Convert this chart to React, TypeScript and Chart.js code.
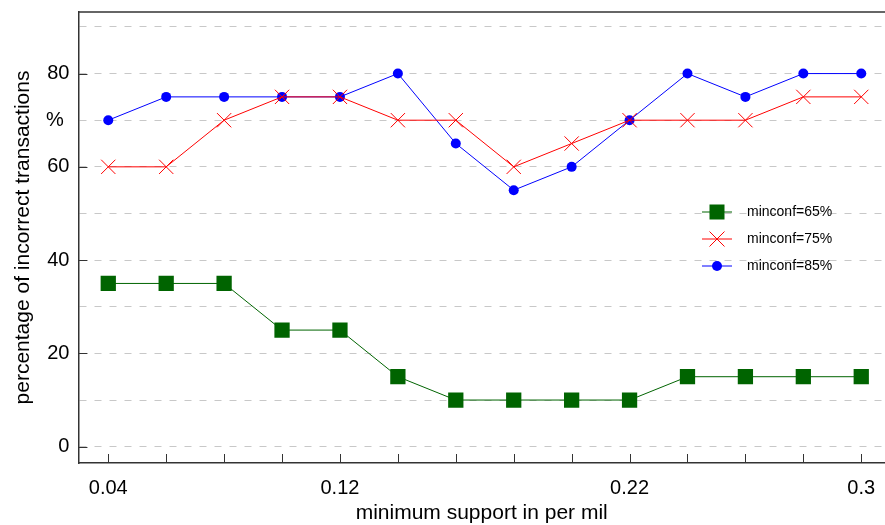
import React, { useEffect, useRef } from 'react';
import { Chart, registerables } from 'chart.js';

Chart.register(...registerables);

// ---- data ----
const xValues = [0.04, 0.06, 0.08, 0.10, 0.12, 0.14, 0.16, 0.18, 0.20, 0.22, 0.24, 0.26, 0.28, 0.30];
const minconf65 = [35, 35, 35, 25, 25, 15, 10, 10, 10, 10, 15, 15, 15, 15];
const minconf75 = [60, 60, 70, 75, 75, 70, 70, 60, 65, 70, 70, 70, 75, 75];
const minconf85 = [70, 75, 75, 75, 75, 80, 65, 55, 60, 70, 80, 75, 80, 80];
const seriesLabels = ['minconf=65%', 'minconf=75%', 'minconf=85%'];
const xTickLabels = ['0.04', '0.12', '0.22', '0.3'];
const yTickValues = [0, 10, 20, 30, 40, 50, 60, 70, 80, 90];
const yTickLabels = ['0', '', '20', '', '40', '', '60', '% ', '80', ''];
const yMajorTicks = [0, 20, 40, 60, 80];
const xTitle = 'minimum support in per mil';
const yTitle = 'percentage of incorrect transactions';

const FONT = '"Liberation Sans", Arial, Helvetica, sans-serif';

const toPoints = (vals: number[]) => vals.map((v, i) => ({ x: xValues[i], y: v }));

const axisDecor = {
  id: 'axisDecor',
  beforeDatasetsDraw(chart: any) {
    const { ctx, chartArea: a, scales } = chart;
    const xs = scales.x;
    const ys = scales.y;
    ctx.save();
    ctx.strokeStyle = '#333';
    ctx.lineWidth = 1;
    ctx.setLineDash([]);
    xs.ticks.forEach((t: any) => {
      const px = Math.round(xs.getPixelForValue(t.value)) + 0.5;
      ctx.beginPath();
      ctx.moveTo(px, a.bottom);
      ctx.lineTo(px, a.bottom - 9);
      ctx.stroke();
    });
    ys.ticks.forEach((t: any) => {
      if (!yMajorTicks.some((m) => Math.abs(m - t.value) < 1e-9)) return;
      const py = Math.round(ys.getPixelForValue(t.value)) + 0.5;
      ctx.beginPath();
      ctx.moveTo(a.left, py);
      ctx.lineTo(a.left + 9, py);
      ctx.stroke();
    });
    ctx.lineWidth = 1.5;
    ctx.beginPath();
    ctx.moveTo(a.left, a.top);
    ctx.lineTo(a.right, a.top);
    ctx.stroke();
    ctx.restore();
  },
};

const insideLegend = {
  id: 'insideLegend',
  afterDatasetsDraw(chart: any) {
    const ctx = chart.ctx;
    const x0 = 702, x1 = 732, xm = 717, xt = 747;
    const rows = [212, 239, 266];
    chart.data.datasets.forEach((ds: any, i: number) => {
      const y = rows[i];
      ctx.save();
      ctx.setLineDash([]);
      ctx.strokeStyle = ds.borderColor;
      ctx.lineWidth = 1;
      ctx.beginPath();
      ctx.moveTo(x0, y);
      ctx.lineTo(x1, y);
      ctx.stroke();
      ctx.fillStyle = ds.pointBackgroundColor;
      ctx.strokeStyle = ds.pointBorderColor;
      if (ds.pointStyle === 'rect') {
        ctx.fillRect(xm - 7.5, y - 7.5, 15, 15);
      } else if (ds.pointStyle === 'crossRot') {
        const h = 7.5;
        ctx.beginPath();
        ctx.moveTo(xm - h, y - h);
        ctx.lineTo(xm + h, y + h);
        ctx.moveTo(xm - h, y + h);
        ctx.lineTo(xm + h, y - h);
        ctx.stroke();
      } else {
        ctx.beginPath();
        ctx.arc(xm, y, 5, 0, Math.PI * 2);
        ctx.fill();
      }
      ctx.fillStyle = '#000';
      ctx.font = `14px ${FONT}`;
      ctx.textBaseline = 'middle';
      ctx.textAlign = 'left';
      ctx.fillText(ds.label, xt, y);
      ctx.restore();
    });
  },
};

export default function App() {
  const ref = useRef<HTMLCanvasElement | null>(null);

  useEffect(() => {
    if (!ref.current) return;
    Chart.defaults.font.family = FONT;
    Chart.defaults.color = '#000';
    const chart = new Chart(ref.current, {
      type: 'line',
      data: {
        datasets: [
          {
            label: seriesLabels[0],
            data: toPoints(minconf65),
            borderColor: '#006400',
            backgroundColor: '#006400',
            pointBackgroundColor: '#006400',
            pointBorderColor: '#006400',
            pointStyle: 'rect',
            pointRadius: 10.8,
            pointBorderWidth: 0,
            borderWidth: 1,
          },
          {
            label: seriesLabels[1],
            data: toPoints(minconf75),
            borderColor: '#ff0000',
            backgroundColor: '#ff0000',
            pointBackgroundColor: '#ff0000',
            pointBorderColor: '#ff0000',
            pointStyle: 'crossRot',
            pointRadius: 10.1,
            pointBorderWidth: 1,
            borderWidth: 1,
          },
          {
            label: seriesLabels[2],
            data: toPoints(minconf85),
            borderColor: '#0000ff',
            backgroundColor: '#0000ff',
            pointBackgroundColor: '#0000ff',
            pointBorderColor: '#0000ff',
            pointStyle: 'circle',
            pointRadius: 5,
            pointBorderWidth: 0,
            borderWidth: 1,
          },
        ] as any,
      },
      options: {
        responsive: false,
        animation: false,
        events: [],
        layout: { autoPadding: false, padding: { top: 12, left: 0, right: 0, bottom: 0 } },
        plugins: {
          legend: { display: false },
          tooltip: { enabled: false },
        },
        scales: {
          x: {
            type: 'linear',
            min: 0.0297,
            max: 0.3082,
            afterBuildTicks: (s: any) => {
              s.ticks = xValues.map((v) => ({ value: v }));
            },
            ticks: {
              padding: 9,
              font: { size: 20, lineHeight: 1.6 },
              maxRotation: 0,
              autoSkip: false,
              callback: (v: any) => {
                const lbl = xTickLabels.find((l) => Math.abs(parseFloat(l) - Number(v)) < 1e-9);
                return lbl === undefined ? [] : lbl;
              },
            },
            grid: { drawOnChartArea: false, drawTicks: false },
            border: { display: true, color: '#333', width: 1.5 },
            title: {
              display: true,
              text: xTitle,
              font: { size: 21, lineHeight: 1 },
              padding: { top: -10.5, bottom: 1.5 },
            },
          },
          y: {
            type: 'linear',
            min: -3.5,
            max: 93.2,
            afterBuildTicks: (s: any) => {
              s.ticks = yTickValues.map((v) => ({ value: v }));
            },
            ticks: {
              padding: 9,
              font: { size: 20 },
              autoSkip: false,
              callback: (_v: any, i: number) => {
                const lbl = yTickLabels[i];
                return lbl === '' || lbl === undefined ? [] : lbl;
              },
            },
            grid: { color: '#c8c8c8', lineWidth: 1, drawTicks: false },
            border: { display: true, color: '#333', width: 1.5, dash: [7, 8] },
            title: {
              display: true,
              text: yTitle,
              font: { size: 21 },
              padding: { top: 10.4, bottom: 1.5 },
            },
          },
        },
      } as any,
      plugins: [axisDecor, insideLegend],
    });
    return () => chart.destroy();
  }, []);

  return (
    <div style={{ position: 'absolute', left: 0, top: 0, width: 885, height: 525, background: '#fff' }}>
      <canvas ref={ref} width={885} height={525} style={{ display: 'block' }} />
    </div>
  );
}
